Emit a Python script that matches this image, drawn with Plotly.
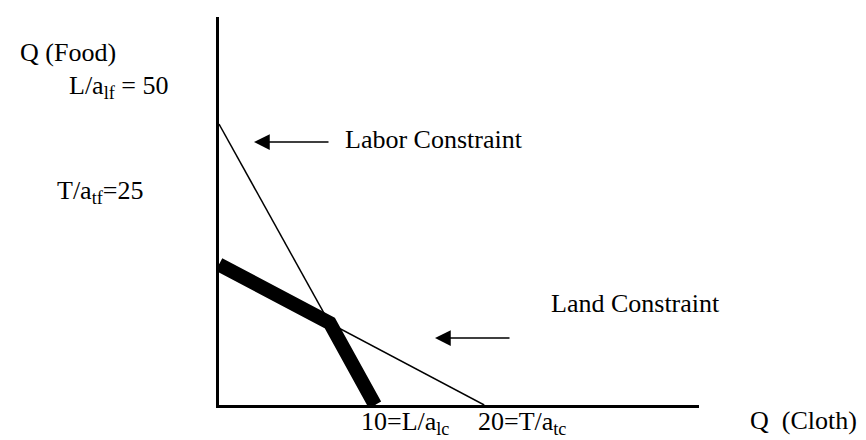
import plotly.graph_objects as go

# Schematic values (cloth on x, food on y)
labor_x = [0, 10]
labor_y = [50, 0]
land_x = [0, 17]
land_y = [25, 0]
ppf_x = [0, 7.1, 10]
ppf_y = [25, 14.6, 0]

W, H = 866, 440
ML, MR, MT, MB = 211, 175, 9, 43
XMAX = 30.77
YMAX = 69.04


def dx(px):
    return (px - ML) / (W - ML - MR) * XMAX


def dy(py):
    return (H - MB - py) / (H - MT - MB) * YMAX


def pxp(px):
    return (px - ML) / (W - ML - MR)


def pyp(py):
    return (H - MB - py) / (H - MT - MB)


FONT = dict(family="Liberation Serif, Times New Roman, serif", size=26, color="black")

fig = go.Figure()
fig.add_trace(go.Scatter(x=labor_x, y=labor_y, mode="lines",
                         line=dict(color="black", width=1.5), hoverinfo="skip"))
fig.add_trace(go.Scatter(x=land_x, y=land_y, mode="lines",
                         line=dict(color="black", width=1.5), hoverinfo="skip"))
fig.add_trace(go.Scatter(x=ppf_x, y=ppf_y, mode="lines",
                         line=dict(color="black", width=14), hoverinfo="skip"))

# (text, left px, top-of-box px)
texts = [
    ("Q (Food)", 10, 28),
    ("L/a<sub>lf</sub> = 50", 59, 61),
    ("T/a<sub>tf</sub>=25", 47, 166),
    ("Labor Constraint", 335, 115),
    ("Land Constraint", 541, 279),
    ("10=L/a<sub>lc</sub>", 351, 397),
    ("20=T/a<sub>tc</sub>", 468, 397),
    ("Q  (Cloth)", 740, 396),
]
for t, px, py in texts:
    fig.add_annotation(x=pxp(px), y=pyp(py), xref="paper", yref="paper", text=t,
                       showarrow=False, xanchor="left", yanchor="top",
                       font=FONT)

arrows = [((322, 134), (246, 134)), ((503, 330), (427, 330))]
for (tx, ty), (hx, hy) in arrows:
    fig.add_annotation(x=dx(hx), y=dy(hy), ax=dx(tx), ay=dy(ty),
                       xref="x", yref="y", axref="x", ayref="y", text="",
                       showarrow=True, arrowhead=2, arrowsize=2.1,
                       arrowwidth=1.5, arrowcolor="black")

fig.update_layout(
    width=W, height=H, margin=dict(l=ML, r=MR, t=MT, b=MB),
    paper_bgcolor="white", plot_bgcolor="white", showlegend=False,
    xaxis=dict(range=[0, XMAX], showgrid=False, zeroline=False, showticklabels=False,
               ticks="", showline=True, linecolor="black", linewidth=2.5,
               fixedrange=True),
    yaxis=dict(range=[0, YMAX], showgrid=False, zeroline=False, showticklabels=False,
               ticks="", showline=True, linecolor="black", linewidth=2.5,
               fixedrange=True),
)
fig.write_html("out.html")
